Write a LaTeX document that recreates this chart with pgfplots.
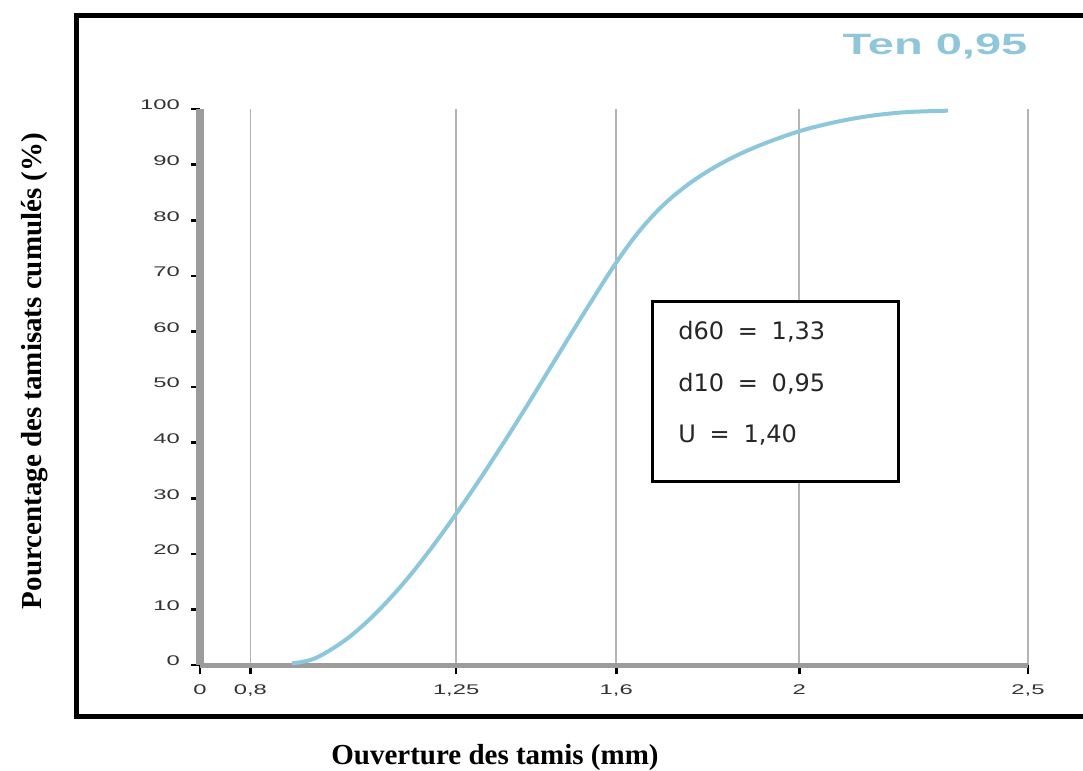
\documentclass[border=0pt]{standalone}
\usepackage{fontspec}
\usepackage{pgfplots}
\pgfplotsset{compat=1.18}
\setmainfont{Liberation Serif}
\newfontfamily\tickfont[FakeStretch=1.7]{Liberation Sans}
\newfontfamily\titlefont[FakeStretch=1.6]{Liberation Sans}
\newfontfamily\boxfont[WordSpace=1.8]{DejaVu Sans}
\definecolor{curveblue}{HTML}{8CC7DC}
\definecolor{titleblue}{HTML}{90C6DA}
\definecolor{axisgray}{HTML}{9C9C9C}
\definecolor{gridgray}{HTML}{B4B4B4}

\begin{document}
\begin{tikzpicture}
\path[use as bounding box] (0,0) rectangle (541.5pt,-385.5pt);
\begin{axis}[
  at={(100pt,-332.5pt)}, anchor=south west,
  scale only axis, width=414pt, height=278pt,
  xmin=0.69, xmax=2.5, ymin=0, ymax=100,
  clip=false,
  axis x line=bottom, axis y line=left,
  x axis line style={-, axisgray, line width=2.5pt},
  y axis line style={-, axisgray, line width=4pt},
  xtick={0.69,0.8,1.25,1.6,2,2.5},
  xticklabels={0,{0,8},{1,25},{1,6},2,{2,5}},
  ytick={0,10,20,30,40,50,60,70,80,90,100},
  yticklabels={0,10,20,30,40,50,60,70,80,90,100},
  tick align=outside, major tick length=4.5pt,
  tick style={black, line width=1.3pt},
  xmajorgrids, grid style={gridgray, line width=0.8pt},
  ticklabel style={font=\tickfont\fontsize{7}{8}\selectfont, text=black!80},
  yticklabel style={xshift=-2pt, yshift=2pt},
  xticklabel style={yshift=-2pt},
]
\addplot[curveblue, line width=2pt, smooth, tension=0.6] coordinates {
 (0.891,0.3) (0.94,1.15) (1.0,4.05) (1.05,7.4) (1.1,11.5) (1.15,16.2)
 (1.2,21.5) (1.25,27.2) (1.3,33.2) (1.35,39.5) (1.4,46.0) (1.45,52.7)
 (1.5,59.4) (1.55,66.0) (1.6,72.4) (1.65,78.0) (1.7,82.5) (1.75,86.0)
 (1.8,88.8) (1.85,91.1) (1.9,93.0) (1.95,94.6) (2.0,96.0) (2.05,97.1)
 (2.1,98.0) (2.15,98.7) (2.2,99.2) (2.25,99.5) (2.325,99.7)};
\end{axis}
\begin{scope}[x=0.5pt,y=-0.5pt]
 \draw[line width=2.5pt] (76,15) rectangle (1120,716);
 \draw[line width=1.5pt, fill=white] (652,301) rectangle (898,481);
 \begin{scope}[every node/.style={anchor=base west, inner sep=0pt, font=\boxfont\fontsize{12}{14}\selectfont, text=black!85}]
  \node at (678,339) {d60 = 1,33};
  \node at (678,391) {d10 = 0,95};
  \node at (678,442) {U = 1,40};
 \end{scope}
 \node[font=\titlefont\bfseries\fontsize{14.7}{16}\selectfont, text=titleblue] at (935,47) {Ten 0,95};
 \node[font=\bfseries\fontsize{14.5}{16}\selectfont, anchor=base] at (495,764) {Ouverture des tamis (mm)};
 \node[font=\bfseries\fontsize{14.5}{16}\selectfont, anchor=base, rotate=90] at (41,371) {Pourcentage des tamisats cumulés (\%)};
\end{scope}
\end{tikzpicture}
\end{document}
